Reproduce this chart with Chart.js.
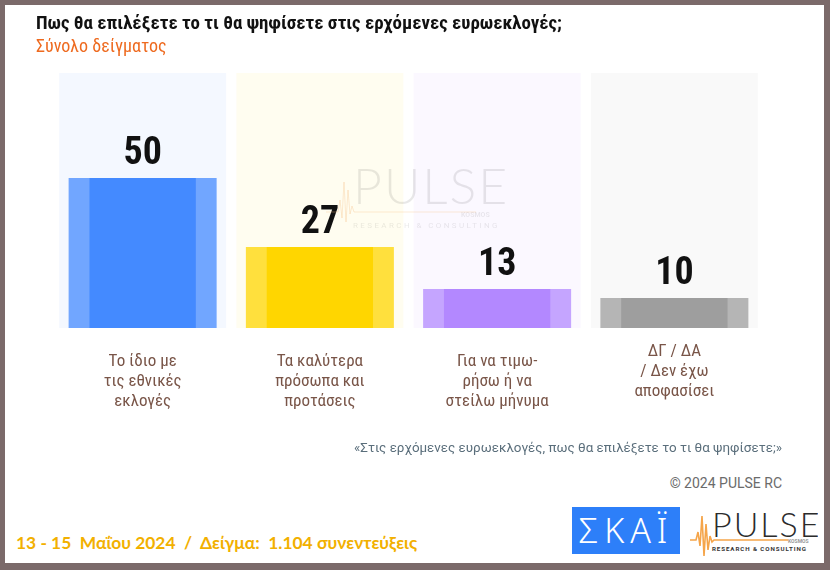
<!DOCTYPE html>
<html>
<head>
<meta charset="utf-8">
<script src="https://cdn.jsdelivr.net/npm/chart.js@4"></script>
<style>
  html, body { margin: 0; padding: 0; background: #7b6a6a; }
  #frame { position: relative; width: 830px; height: 570px; background: #7b6a6a; overflow: hidden; }
  #inner { position: absolute; left: 5px; top: 5px; width: 819px; height: 558px; background: #ffffff; }
  #chartWrap { position: absolute; left: 0; top: 0; width: 830px; height: 471px; }
  .abs { position: absolute; white-space: pre; }
  #title { left: 36px; top: 12px; font-family: "Liberation Sans Narrow", "Roboto Condensed", "Liberation Sans", sans-serif; font-weight: bold; font-size: 18.9px; color: #111; line-height: 22px; }
  #subtitle { left: 36px; top: 36px; font-family: "Liberation Sans Narrow", "Roboto Condensed", "Liberation Sans", sans-serif; font-size: 18px; color: #ee6a1f; line-height: 20px; }
  #quote { right: 48px; top: 439px; font-family: Roboto, sans-serif; font-size: 13.4px; color: #5a6e7b; line-height: 18px; }
  #copy { right: 48px; top: 474px; font-family: Roboto, sans-serif; font-size: 14px; color: #6b6b6b; line-height: 18px; }
  #fieldwork { left: 16px; top: 533px; font-family: Lato, "Open Sans", sans-serif; font-weight: bold; font-size: 17.4px; color: #f2b000; line-height: 20px; }
  #skai { left: 572px; top: 507px; width: 108px; height: 47px; background: #2d7ff9; color: #fff; font-family: "Noto Sans", sans-serif; font-weight: 300; font-size: 34px; line-height: 47px; text-align: center; letter-spacing: 6px; }
  #wm { left: 326px; top: 160px; width: 190px; height: 75px; pointer-events: none; }
</style>
</head>
<body>
<div id="frame">
  <div id="inner"></div>
  <div id="chartWrap"><canvas id="c" width="830" height="471"></canvas></div>

  <svg id="wm" class="abs" viewBox="0 0 190 75" width="190" height="75">
    <polyline points="0,52 12,52 14,40 16,58 18,22 20,62 22,30 24,54 26,46 28,52 150,52" fill="none" stroke="#f6c48a" stroke-opacity="0.35" stroke-width="1"/>
    <text x="27" y="44" font-family="Lato, 'Open Sans', sans-serif" font-weight="300" font-size="50" letter-spacing="2" fill="#000" fill-opacity="0.09">PULSE</text>
    <text x="135" y="57" font-family="Roboto, sans-serif" font-weight="bold" font-size="7" fill="#000" fill-opacity="0.08">KOSMOS</text>
    <text x="27" y="68" font-family="Roboto, sans-serif" font-size="8" letter-spacing="2.4" fill="#000" fill-opacity="0.09">RESEARCH &amp; CONSULTING</text>
  </svg>

  <div id="title" class="abs">Πως θα επιλέξετε το τι θα ψηφίσετε στις ερχόμενες ευρωεκλογές;</div>
  <div id="subtitle" class="abs">Σύνολο δείγματος</div>
  <div id="quote" class="abs">«Στις ερχόμενες ευρωεκλογές, πως θα επιλέξετε το τι θα ψηφίσετε;»</div>
  <div id="copy" class="abs">© 2024 PULSE RC</div>
  <div id="fieldwork" class="abs">13 - 15  Μαΐου 2024  /  Δείγμα:  1.104 συνεντεύξεις</div>
  <div id="skai" class="abs">ΣΚΑΪ</div>

  <svg class="abs" style="left:688px; top:506px;" width="130" height="56" viewBox="0 0 130 56">
    <polyline points="2,34 8,34 10,26 12,40 14,10 16,50 18,18 20,44 22,30 24,36 26,34 100,34" fill="none" stroke="#f5a54a" stroke-width="1.6"/>
    <text x="24" y="31" font-family="Lato, 'Open Sans', sans-serif" font-weight="300" font-size="34" letter-spacing="2" fill="#2b2b2b">PULSE</text>
    <text x="100" y="37" font-family="Roboto, sans-serif" font-weight="bold" font-size="5" fill="#999">KOSMOS</text>
    <text x="24" y="45" font-family="Roboto, sans-serif" font-weight="bold" font-size="6.2" letter-spacing="0.9" fill="#333">RESEARCH &amp; CONSULTING</text>
  </svg>
</div>

<script>
// ---- data ----
const categories = [
  ['Το ίδιο με', 'τις εθνικές', 'εκλογές'],
  ['Τα καλύτερα', 'πρόσωπα και', 'προτάσεις'],
  ['Για να τιμω-', 'ρήσω ή να', 'στείλω μήνυμα'],
  ['ΔΓ / ΔΑ', '/ Δεν έχω', 'αποφασίσει', '']
];
const values = [50, 27, 13, 10];
const panelValues = [85, 85, 85, 85];
const axisMax = 85;

// ---- styles ----
const baseColors = ['#448aff', '#ffd600', '#b388ff', '#9e9e9e'];
function withAlpha(hex, a) {
  const r = parseInt(hex.slice(1, 3), 16), g = parseInt(hex.slice(3, 5), 16), b = parseInt(hex.slice(5, 7), 16);
  return `rgba(${r},${g},${b},${a})`;
}
const narrow = '"Liberation Sans Narrow", "Roboto Condensed", "Liberation Sans", sans-serif';

const valueLabels = {
  id: 'valueLabels',
  afterDatasetsDraw(chart) {
    const meta = chart.getDatasetMeta(0);
    const ctx = chart.ctx;
    ctx.save();
    ctx.font = 'bold 38px ' + narrow;
    ctx.fillStyle = '#111';
    ctx.textAlign = 'center';
    ctx.textBaseline = 'alphabetic';
    meta.data.forEach((el, i) => {
      ctx.fillText(String(chart.data.datasets[0].data[i]), el.x, el.y - 14);
    });
    ctx.restore();
  }
};

new Chart(document.getElementById('c'), {
  type: 'bar',
  data: {
    labels: categories,
    datasets: [
      {
        data: values,
        backgroundColor: baseColors,
        barPercentage: 0.6,
        categoryPercentage: 1,
        grouped: false,
        order: 0
      },
      {
        data: values,
        backgroundColor: baseColors.map(c => withAlpha(c, 0.75)),
        barPercentage: 0.835,
        categoryPercentage: 1,
        grouped: false,
        order: 1
      },
      {
        data: panelValues,
        backgroundColor: baseColors.map(c => withAlpha(c, 0.06)),
        barPercentage: 0.942,
        categoryPercentage: 1,
        grouped: false,
        order: 2
      }
    ]
  },
  options: {
    responsive: false,
    animation: false,
    layout: { padding: { left: 54, right: 67, top: 73, bottom: 15 } },
    plugins: { legend: { display: false }, tooltip: { enabled: false } },
    scales: {
      y: { display: false, min: 0, max: axisMax },
      x: {
        grid: { display: false, drawTicks: false },
        border: { display: false },
        ticks: {
          color: '#795548',
          font: { family: narrow, size: 17, lineHeight: '20px' },
          padding: 24,
          crossAlign: 'center',
          maxRotation: 0,
          autoSkip: false
        }
      }
    }
  },
  plugins: [valueLabels]
});
</script>
</body>
</html>
